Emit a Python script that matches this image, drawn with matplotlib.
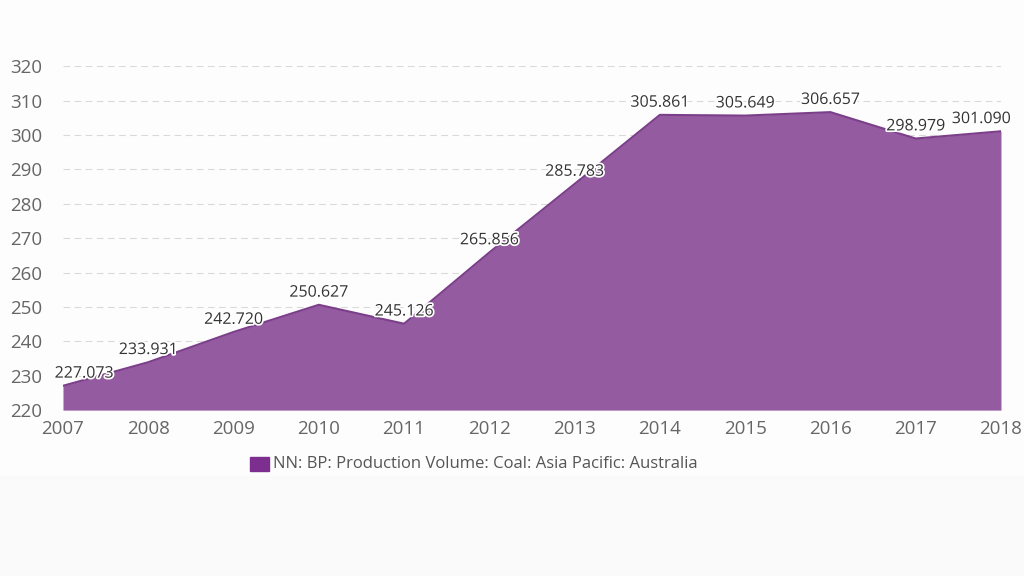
import matplotlib
matplotlib.use("Agg")
import matplotlib.pyplot as plt
import matplotlib.patheffects as pe

plt.rcParams['font.family'] = ['Open Sans', 'DejaVu Sans']

years = [2007, 2008, 2009, 2010, 2011, 2012, 2013, 2014, 2015, 2016, 2017, 2018]
values = [227.073, 233.931, 242.720, 250.627, 245.126, 265.856, 285.783,
          305.861, 305.649, 306.657, 298.979, 301.090]
series_name = "NN: BP: Production Volume: Coal: Asia Pacific: Australia"

fig = plt.figure(figsize=(10.24, 5.76), dpi=100)
fig.patch.set_facecolor('#fdfdfd')
# lower strip of the page is a touch greyer
fig.patches.append(plt.Rectangle((0, 0), 1, 1 - 476 / 576, transform=fig.transFigure,
                                 color='#fafafa', zorder=0))
ax = fig.add_axes([0.0615, 0.288, 0.916, 0.597])
ax.set_facecolor('#fdfdfd')

# area
ax.fill_between(years, values, 220, color='#955ba0', linewidth=0, zorder=2)
ax.plot(years, values, color='#7b3f8a', linewidth=1.5, zorder=3)

# value labels (kept inside the plot at the ends)
for i, (x, v) in enumerate(zip(years, values)):
    ha, dx = 'center', 0
    if i == 0:
        ha, dx = 'left', -6
    elif i == len(years) - 1:
        ha, dx = 'right', 7
    ax.annotate(f"{v:.3f}", (x, v), xytext=(dx, 3), textcoords='offset points',
                ha=ha, va='bottom', fontsize=11.5, color='#333333', zorder=5,
                path_effects=[pe.withStroke(linewidth=2.5, foreground='white')])

ax.set_xlim(2007, 2018)
ax.set_ylim(220, 320)
ax.set_yticks(range(220, 321, 10))
ax.set_xticks(years)
ax.tick_params(axis='both', length=0, labelsize=13.5, labelcolor='#666666')
ax.tick_params(axis='y', pad=15)
ax.tick_params(axis='x', pad=7)
ax.grid(axis='y', color='#d9d9d9', linestyle=(0, (6, 4)), linewidth=0.8, zorder=0)
for s in ax.spines.values():
    s.set_visible(False)

# legend
fig.patches.append(plt.Rectangle((250 / 1024, 1 - 471 / 576), 19 / 1024, 14 / 576,
                                 transform=fig.transFigure, color='#7d2f8f'))
fig.text(273 / 1024, 1 - 464 / 576, series_name, fontsize=12, color='#555555',
         va='center', ha='left')

plt.savefig('out.png', dpi=100, facecolor=fig.get_facecolor())
